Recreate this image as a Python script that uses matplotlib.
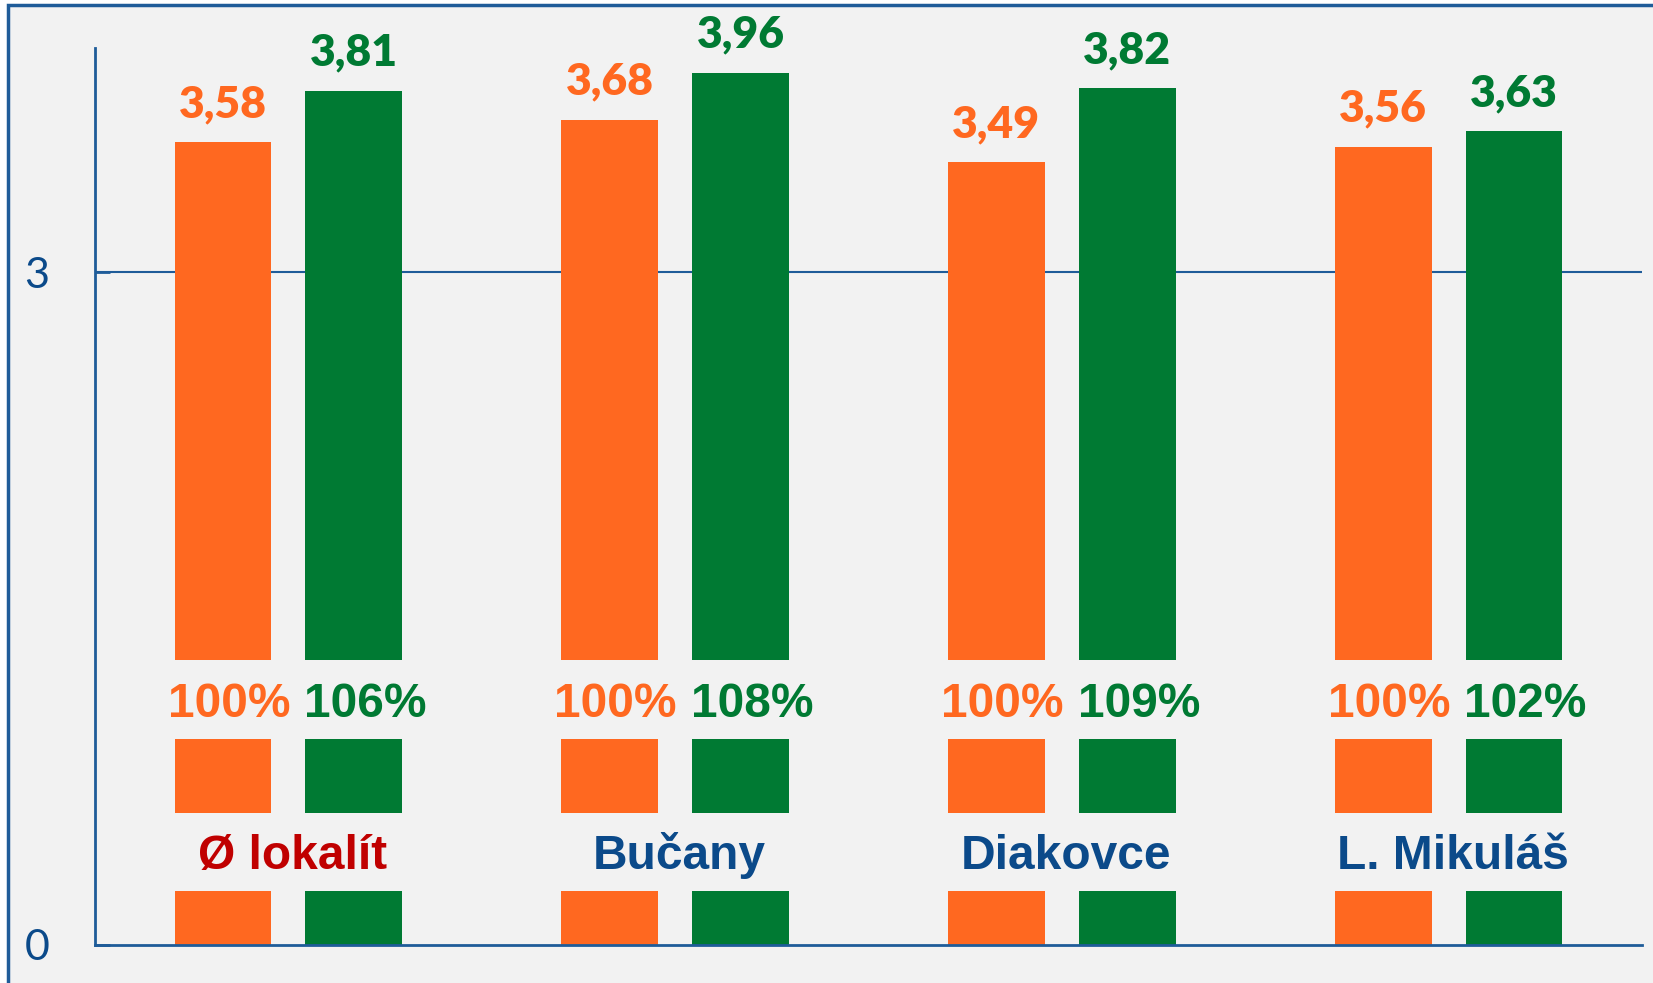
import numpy as np
import matplotlib.pyplot as plt
from matplotlib.patches import Rectangle

# data
categories = ['Ø lokalít', 'Bučany', 'Diakovce', 'L. Mikuláš']
orange_vals = [3.58, 3.68, 3.49, 3.56]
green_vals = [3.81, 3.89, 3.82, 3.63]
orange_labels = ['3,58', '3,68', '3,49', '3,56']
green_labels = ['3,81', '3,96', '3,82', '3,63']
orange_pct = ['100%', '100%', '100%', '100%']
green_pct = ['106%', '108%', '109%', '102%']
cat_colors = ['#c00000', '#0b4a8a', '#0b4a8a', '#0b4a8a']

ORANGE = '#ff6820'
GREEN = '#007a33'
BLUE = '#0b4a8a'
AXIS = '#1f5c99'
BG = '#f2f2f2'

# bars are cut where the text boxes sit
segments = [(0.0, 0.24), (0.59, 0.92), (1.27, 10.0)]

fig = plt.figure(figsize=(16.53, 9.83), dpi=100)
fig.patch.set_facecolor('white')
fig.patches.append(Rectangle((8 / 1653, -0.1), 1.1, 1 - 5 / 983 + 0.1,
                             transform=fig.transFigure, facecolor=BG,
                             edgecolor=AXIS, linewidth=2.5, zorder=-1))

ax = fig.add_axes([95 / 1653, 1 - 945 / 983, (1642 - 95) / 1653, (945 - 48) / 983])
ax.set_facecolor('none')

x = np.arange(len(categories))
w = 0.25
off = 0.169

for vals, xs, color in [(orange_vals, x - off, ORANGE), (green_vals, x + off, GREEN)]:
    for xi, v in zip(xs, vals):
        for lo, hi in segments:
            top = min(hi, v)
            if top > lo:
                ax.bar(xi, top - lo, bottom=lo, width=w, color=color, zorder=2)

for xi, v, lab in zip(x - off, orange_vals, orange_labels):
    ax.annotate(lab, (xi, v), xytext=(0, 18), textcoords='offset points',
                ha='center', va='baseline', color=ORANGE, fontsize=32,
                fontweight='heavy', family='Lato')
for xi, v, lab in zip(x + off, green_vals, green_labels):
    ax.annotate(lab, (xi, v), xytext=(0, 18), textcoords='offset points',
                ha='center', va='baseline', color=GREEN, fontsize=32,
                fontweight='heavy', family='Lato')

for i in range(len(categories)):
    ax.text(x[i] - off + 0.015, 1.017, orange_pct[i], ha='center', va='baseline',
            color=ORANGE, fontsize=34.5, fontweight='bold', family='Liberation Sans')
    ax.text(x[i] + off + 0.03, 1.017, green_pct[i], ha='center', va='baseline',
            color=GREEN, fontsize=34.5, fontweight='bold', family='Liberation Sans')
    ax.text(x[i] + 0.01, 0.339, categories[i], ha='center', va='baseline',
            color=cat_colors[i], fontsize=34.5, fontweight='bold', family='Liberation Sans')

ax.axhline(3, color=AXIS, linewidth=1.5, zorder=1)

ax.set_xlim(-0.5, 3.5)
ax.set_ylim(0, 4)
ax.set_xticks([])
ax.set_yticks([0, 3])
ax.set_yticklabels(['0', '3'], family='Lato', fontsize=31, color=BLUE)
ax.tick_params(axis='y', direction='in', length=11, width=2, color=AXIS, pad=33)

for s in ['top', 'right']:
    ax.spines[s].set_visible(False)
for s in ['left', 'bottom']:
    ax.spines[s].set_color(AXIS)
    ax.spines[s].set_linewidth(2)
    ax.spines[s].set_zorder(3)

fig.savefig('out.png', dpi=100, facecolor=fig.get_facecolor())
